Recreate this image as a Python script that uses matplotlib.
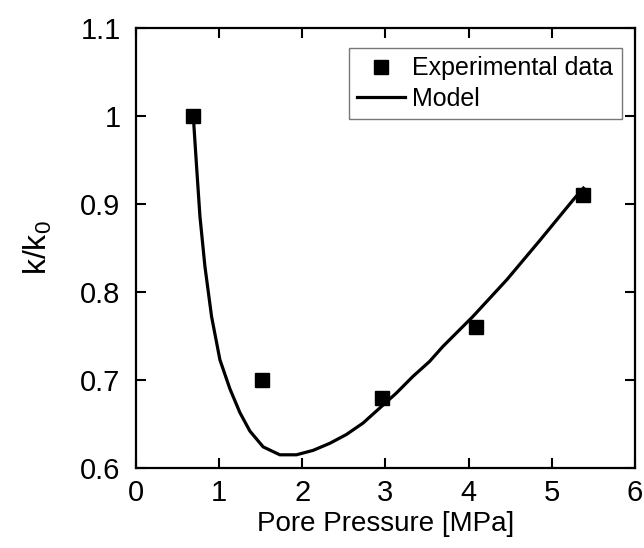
import matplotlib
matplotlib.use("Agg")
from matplotlib import pyplot as plt

plt.rcParams["font.family"] = ["Liberation Sans", "DejaVu Sans"]
plt.rcParams["mathtext.default"] = "regular"

# experimental points
pressure = [0.69, 1.52, 2.96, 4.09, 5.38]
k_ratio = [1.00, 0.70, 0.68, 0.76, 0.91]

# model curve
model_p = [0.69, 0.73, 0.77, 0.83, 0.91, 1.01, 1.13, 1.25, 1.37, 1.53, 1.73,
           1.93, 2.13, 2.33, 2.53, 2.73, 2.93, 3.13, 3.33, 3.53, 3.69, 4.05,
           4.46, 4.86, 5.26, 5.38]
model_k = [1.000, 0.942, 0.886, 0.829, 0.772, 0.723, 0.690, 0.663, 0.642,
           0.624, 0.615, 0.615, 0.620, 0.628, 0.638, 0.651, 0.668, 0.685,
           0.704, 0.721, 0.738, 0.772, 0.814, 0.859, 0.905, 0.918]


def plot():
    fig = plt.figure(figsize=(6.44, 5.48), dpi=100)
    ax = fig.add_axes([0.211, 0.146, 0.775, 0.803])

    ax.plot(pressure, k_ratio, "ks", markersize=10.5, label="Experimental data")
    ax.plot(model_p, model_k, "k-", linewidth=2.3, label="Model")

    ax.set_xlim(0, 6)
    ax.set_ylim(0.6, 1.1)
    ax.set_xticks([0, 1, 2, 3, 4, 5, 6])
    ax.set_yticks([0.6, 0.7, 0.8, 0.9, 1.0, 1.1])
    ax.set_yticklabels(["0.6", "0.7", "0.8", "0.9", "1", "1.1"])

    ax.tick_params(direction="in", top=True, right=True, length=7, width=1.5,
                   labelsize=21)
    ax.tick_params(axis="y", pad=11)
    ax.tick_params(axis="x", pad=8)
    for s in ax.spines.values():
        s.set_linewidth(1.6)

    ax.set_xlabel("Pore Pressure [MPa]", fontsize=20, labelpad=3)
    ax.set_ylabel("k/k$_0$", fontsize=23, labelpad=19)

    leg = ax.legend(loc="upper right", bbox_to_anchor=(0.974, 0.955),
                    fontsize=18, handlelength=1.9, handletextpad=0.3,
                    borderpad=0.35, labelspacing=0.25, fancybox=False,
                    borderaxespad=0)
    leg.get_frame().set_edgecolor("#555555")
    leg.get_frame().set_linewidth(1.0)

    fig.savefig("out.png", dpi=100)


if __name__ == "__main__":
    plot()
